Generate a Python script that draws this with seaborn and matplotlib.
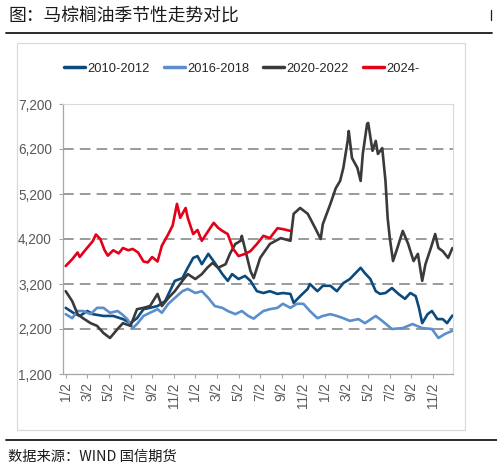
import numpy as np
import pandas as pd
import matplotlib
matplotlib.use("Agg")
import matplotlib.pyplot as plt
from matplotlib.ticker import FuncFormatter, FixedLocator
import seaborn as sns

# ---------------------------------------------------------------------------
# data (x = months since 1/2 of the first year, y = price)
# ---------------------------------------------------------------------------
m_2010 = [0.0, 0.7, 1.3, 2.0, 2.5, 3.5, 4.4, 5.3, 6.0, 6.6, 7.2, 7.8, 8.5, 9.2,
          10.1, 10.8, 11.3, 11.8, 12.2, 12.6, 13.2, 13.8, 14.5, 15.0, 15.4, 16.0,
          16.6, 17.1, 17.7, 18.3, 18.9, 19.6, 20.1, 20.8, 21.1, 21.7, 22.4, 22.6,
          23.3, 23.8, 24.5, 25.1, 25.7, 26.3, 27.3, 27.7, 28.2, 28.7, 29.1, 29.6,
          30.2, 30.8, 31.4, 31.9, 32.4, 32.7, 33.0, 33.5, 33.9, 34.4, 34.9, 35.3, 35.8]
v_2010 = [2670, 2560, 2490, 2600, 2530, 2490, 2490, 2420, 2330, 2440, 2640, 2670, 2710, 2820,
          3270, 3330, 3560, 3780, 3820, 3640, 3870, 3670, 3420, 3270, 3420, 3310,
          3380, 3270, 3040, 3000, 3040, 2980, 3000, 2980, 2780, 2930, 3090, 3200,
          3040, 3160, 3160, 3040, 3220, 3310, 3560, 3440, 3310, 3040, 2980, 3000,
          3110, 2980, 2870, 3000, 2930, 2670, 2330, 2530, 2600, 2420, 2420, 2330, 2500]

m_2016 = [0.0, 0.6, 1.1, 1.6, 2.3, 2.9, 3.5, 4.1, 4.8, 5.2, 5.7, 6.2, 6.6, 7.2, 7.8,
          8.5, 8.9, 9.5, 10.1, 10.8, 11.3, 12.0, 12.6, 13.2, 13.8, 14.5, 15.0, 15.7,
          16.3, 16.9, 17.4, 17.7, 18.3, 18.9, 19.6, 20.1, 20.8, 21.4, 22.0, 22.6,
          23.3, 23.8, 24.5, 25.1, 25.7, 26.3, 27.1, 27.7, 28.7, 29.3, 30.2, 31.2,
          32.1, 33.0, 33.9, 34.5, 35.1, 35.8]
v_2016 = [2530, 2440, 2600, 2600, 2530, 2670, 2670, 2560, 2600, 2530, 2420, 2220, 2310, 2490, 2560,
          2640, 2560, 2760, 2890, 3040, 3090, 3000, 3040, 2890, 2710, 2670, 2600, 2530,
          2600, 2490, 2430, 2490, 2600, 2640, 2670, 2760, 2670, 2760, 2760, 2600,
          2440, 2490, 2530, 2490, 2440, 2380, 2420, 2330, 2490, 2380, 2200, 2220,
          2310, 2220, 2200, 2000, 2090, 2160]

m_2020 = [0.0, 0.6, 1.1, 1.6, 2.3, 2.9, 3.5, 4.1, 4.8, 5.3, 6.0, 6.6, 7.2, 7.8, 8.5,
          8.9, 9.5, 10.1, 10.8, 11.3, 12.0, 12.6, 13.1, 13.6, 14.1, 14.8, 15.2, 15.7,
          16.2, 16.3, 16.6, 17.1, 17.4, 18.0, 18.9, 19.9, 20.8, 21.1, 21.7, 22.4,
          22.6, 23.1, 23.6, 23.8, 24.5, 25.0, 25.4, 25.7, 26.1, 26.2, 26.5, 27.0,
          27.3, 27.5, 27.9, 28.0, 28.4, 28.7, 28.9, 29.3, 29.6, 29.8, 30.0, 30.3,
          30.7, 31.2, 31.7, 32.2, 32.6, 33.0, 33.3, 33.8, 34.2, 34.5, 34.9, 35.4, 35.8]
v_2020 = [3040, 2820, 2530, 2440, 2330, 2270, 2110, 2000, 2200, 2330, 2270, 2640, 2670, 2710, 2980,
          2710, 2890, 3040, 3270, 3420, 3310, 3420, 3560, 3670, 3560, 3640, 3870, 4090,
          4160, 4270, 3980, 3490, 3330, 3780, 4090, 4220, 4160, 4760, 4890, 4760,
          4670, 4440, 4200, 4530, 4980, 5330, 5490, 5780, 6380, 6600, 6000, 5780,
          5490, 6090, 6760, 6780, 6160, 6380, 6090, 6220, 5490, 4670, 4220, 3710,
          4000, 4380, 4090, 3710, 3870, 3270, 3640, 4000, 4310, 4000, 3930, 3780, 4000]

m_2024 = [0.0, 0.6, 1.1, 1.3, 1.8, 2.5, 2.8, 3.2, 3.6, 3.9, 4.4, 4.9, 5.3, 5.8, 6.2,
          6.7, 7.2, 7.6, 8.0, 8.5, 8.9, 9.5, 9.9, 10.3, 10.6, 11.1, 11.3, 11.8, 12.2,
          12.6, 13.2, 13.7, 14.1, 14.5, 15.0, 15.5, 16.0, 16.6, 17.1, 17.7, 18.3,
          18.9, 19.6, 20.1, 20.8]
v_2024 = [3600, 3750, 3900, 3800, 3950, 4150, 4300, 4200, 3950, 3830, 3950, 3880, 4000, 3950, 3980,
          3900, 3700, 3680, 3800, 3700, 4050, 4310, 4500, 4980, 4670, 4890, 4670, 4310, 4400,
          4160, 4380, 4560, 4450, 4380, 4310, 3980, 3820, 3870, 3930, 4090, 4270,
          4220, 4440, 4420, 4380]

series_names = ["2010-2012", "2016-2018", "2020-2022", "2024-"]
series_colors = ["#0B4A7D", "#5B8ECB", "#3A3A3A", "#E2001A"]

tick_pos = list(range(0, 36, 2))
tick_labels = ["1/2", "3/2", "5/2", "7/2", "9/2", "11/2"] * 3
y_ticks = [1200, 2200, 3200, 4200, 5200, 6200, 7200]

# ---------------------------------------------------------------------------
sns.set_theme(style="white")
latin = ["Liberation Sans", "DejaVu Sans"]
cjk = ["Noto Sans CJK SC", "DejaVu Sans"]
plt.rcParams["font.family"] = latin

fig = plt.figure(figsize=(4.97, 4.70), dpi=100)
ax = fig.add_axes([63 / 497, 1 - 374 / 470, (453 - 63) / 497, (374 - 104) / 470])

df = pd.concat([
    pd.DataFrame({"m": m, "v": v, "s": name})
    for m, v, name in zip([m_2010, m_2016, m_2020, m_2024],
                          [v_2010, v_2016, v_2020, v_2024], series_names)
])

for name, col in zip(series_names, series_colors):
    sub = df[df["s"] == name]
    sns.lineplot(data=sub, x="m", y="v", color=col, lw=1.9, label=name,
                 estimator=None, ax=ax)

ax.set_xlim(-0.25, 35.85)
ax.set_ylim(1200, 7200)
ax.yaxis.set_major_locator(FixedLocator(y_ticks))
ax.yaxis.set_major_formatter(FuncFormatter(lambda v, p: f"{int(v):,}"))
ax.set_xticks(tick_pos)
ax.set_xticklabels(tick_labels, rotation=90)
ax.set_xlabel("")
ax.set_ylabel("")

for yv in y_ticks[1:]:
    ax.axhline(yv, color="#7F7F7F", lw=1.1, ls=(0, (7, 4)), zorder=0)

for side in ["top", "right"]:
    ax.spines[side].set_color("#D9D9D9")
    ax.spines[side].set_linewidth(0.8)
for side in ["left", "bottom"]:
    ax.spines[side].set_color("#A6A6A6")
    ax.spines[side].set_linewidth(0.9)

ax.tick_params(axis="y", length=3, width=0.8, color="#A6A6A6", pad=5,
               labelsize=9.8, labelcolor="#595959", left=True)
ax.tick_params(axis="x", length=3, width=0.8, color="#A6A6A6", pad=3,
               labelsize=9.8, labelcolor="#595959", bottom=True)

leg = ax.legend(loc="center", bbox_to_anchor=(242 / 497, 1 - 69 / 470),
                bbox_transform=fig.transFigure, ncol=4, frameon=False,
                fontsize=9.3, handlelength=1.6, handletextpad=0.2,
                columnspacing=1.1)
for t in leg.get_texts():
    t.set_color("#262626")
for h in leg.get_lines():
    h.set_linewidth(2.5)

# outer chart frame
fig.patches.append(plt.Rectangle((17 / 497, 1 - 430 / 470), 448 / 497, 387 / 470,
                                 transform=fig.transFigure, fill=False,
                                 edgecolor="#D9D9D9", lw=0.9))

# header / footer
fig.text(8 / 497, 1 - 16 / 470, "图：马棕榈油季节性走势对比", family=cjk,
         fontsize=12.8, color="#1A1A1A", va="center", ha="left")
fig.add_artist(plt.Line2D([6 / 497, 492 / 497], [1 - 33 / 470, 1 - 33 / 470],
                          transform=fig.transFigure, color="#1A1A1A", lw=1.3))
fig.add_artist(plt.Line2D([491 / 497, 491 / 497], [1 - 10 / 470, 1 - 20 / 470],
                          transform=fig.transFigure, color="#1A1A1A", lw=0.9))
fig.add_artist(plt.Line2D([6 / 497, 1.0], [1 - 440 / 470, 1 - 440 / 470],
                          transform=fig.transFigure, color="#1A1A1A", lw=1.3))
fig.text(8 / 497, 1 - 457 / 470, "数据来源：WIND 国信期货", family=cjk,
         fontsize=10.3, color="#1A1A1A", va="center", ha="left")

fig.savefig("out.png", dpi=100)
